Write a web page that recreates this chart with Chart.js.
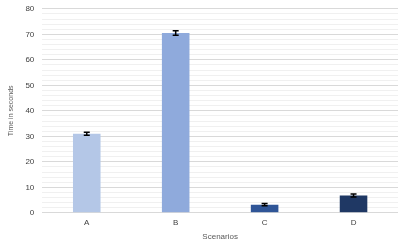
<!DOCTYPE html>
<html lang="en">
<head>
<meta charset="UTF-8">
<script src="https://cdn.jsdelivr.net/npm/chart.js"></script>
<style>
  html, body { margin: 0; padding: 0; background: #fff; overflow: hidden; }
  #wrap { width: 407px; height: 255px; margin-top: -4px; }
</style>
</head>
<body>
<div id="wrap"><canvas id="chart"></canvas></div>
<script>
// data
const scenarios = ['A', 'B', 'C', 'D'];
const times = [31, 70.5, 3.2, 6.8];
const errors = [0.6, 0.9, 0.4, 0.6];
const barColors = ['#b4c7e7', '#8faadc', '#2f5597', '#1f3864'];
const yTicks = [0, 10, 20, 30, 40, 50, 60, 70, 80];

// error bars drawn through the chart's scales
const errorBars = {
  id: 'errorBars',
  afterDatasetsDraw(chart) {
    const ctx = chart.ctx;
    const x = chart.scales.x, y = chart.scales.y;
    ctx.save();
    ctx.strokeStyle = '#000';
    ctx.lineWidth = 1.5;
    times.forEach((v, i) => {
      const cx = x.getPixelForValue(i);
      const top = y.getPixelForValue(v + errors[i]);
      const bot = y.getPixelForValue(v - errors[i]);
      ctx.beginPath();
      ctx.moveTo(cx, top); ctx.lineTo(cx, bot);
      ctx.moveTo(cx - 3, top); ctx.lineTo(cx + 3, top);
      ctx.moveTo(cx - 3, bot); ctx.lineTo(cx + 3, bot);
      ctx.stroke();
    });
    ctx.restore();
  }
};

new Chart(document.getElementById('chart'), {
  type: 'bar',
  data: {
    labels: scenarios,
    datasets: [{
      data: times,
      backgroundColor: barColors,
      categoryPercentage: 1,
      barPercentage: 0.31
    }]
  },
  options: {
    responsive: true,
    maintainAspectRatio: false,
    animation: false,
    layout: { padding: { top: 0, right: 9, bottom: 9, left: 7 } },
    plugins: { legend: { display: false }, tooltip: { enabled: false } },
    scales: {
      x: {
        grid: { display: false, drawTicks: false },
        border: { display: false },
        ticks: { color: '#404040', font: { family: 'Liberation Sans', size: 8 }, padding: 5 },
        title: { display: true, text: 'Scenarios', color: '#595959', font: { family: 'Liberation Sans', size: 8 }, padding: { top: 0, bottom: 0 } }
      },
      y: {
        min: 0,
        max: 80,
        border: { display: false },
        grid: {
          color: c => (c.tick.value % 10 === 0 ? '#d9d9d9' : '#f0f0f0'),
          drawTicks: false
        },
        ticks: {
          stepSize: 2,
          autoSkip: false,
          padding: 8,
          color: '#404040',
          font: { family: 'Liberation Sans', size: 8 },
          callback: v => (yTicks.includes(v) ? String(v) : '')
        },
        title: { display: true, text: 'Time in seconds', color: '#595959', font: { family: 'Liberation Sans', size: 7 }, padding: { top: 0, bottom: 2 } }
      }
    }
  },
  plugins: [errorBars]
});
</script>
</body>
</html>
